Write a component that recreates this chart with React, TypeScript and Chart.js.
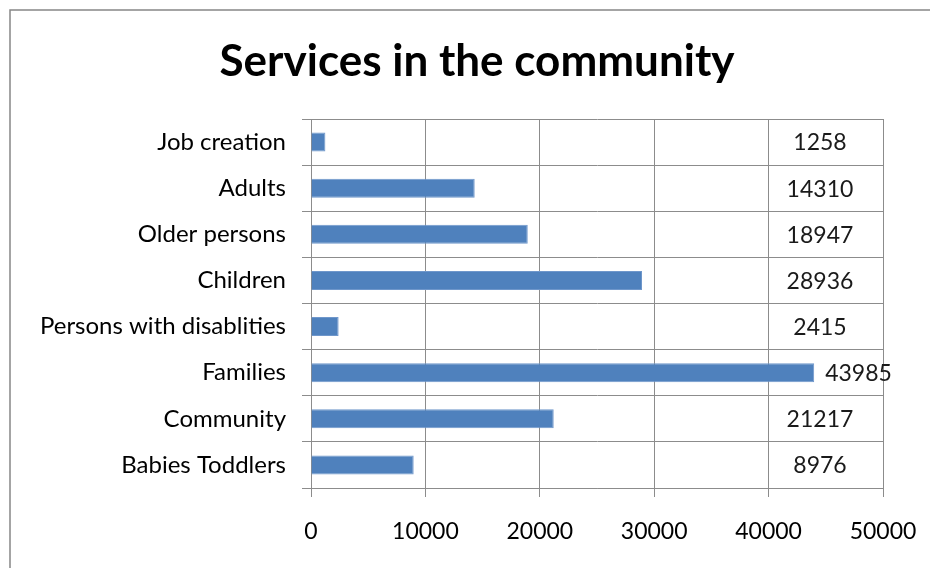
import React, { useEffect, useRef } from "react";
import { Chart, registerables } from "chart.js";

Chart.register(...registerables);

const TITLE = "Services in the community";
const categories = [
  "Job creation",
  "Adults",
  "Older persons",
  "Children",
  "Persons with disablities",
  "Families",
  "Community",
  "Babies Toddlers",
];
const values = [1258, 14310, 18947, 28936, 2415, 43985, 21217, 8976];
const xMin = 0;
const xMax = 50000;
const xStep = 10000;
const labelColumnValue = 44490;

const FONT = "Lato";

export default function App() {
  const ref = useRef<HTMLCanvasElement | null>(null);

  useEffect(() => {
    if (!ref.current) return;
    const frame = {
      id: "frame",
      beforeDraw(chart: any) {
        const c = chart.ctx;
        c.save();
        c.fillStyle = "#ffffff";
        c.fillRect(0, 0, chart.width, chart.height);
        c.strokeStyle = "#878787";
        c.lineWidth = 1.5;
        c.beginPath();
        c.moveTo(10, chart.height + 5);
        c.lineTo(10, 10);
        c.lineTo(chart.width + 5, 10);
        c.stroke();
        c.fillStyle = "#000";
        c.font = `bold 44px ${FONT}`;
        c.textAlign = "center";
        c.textBaseline = "middle";
        c.fillText(TITLE, 477, 62);
        c.restore();
      },
    };
    const valueLabels = {
      id: "valueLabels",
      afterDatasetsDraw(chart: any) {
        const c = chart.ctx;
        const meta = chart.getDatasetMeta(0);
        const xs = chart.scales.x;
        c.save();
        c.font = `23px ${FONT}`;
        c.fillStyle = "#1a1a1a";
        c.textAlign = "center";
        c.textBaseline = "middle";
        meta.data.forEach((bar: any, i: number) => {
          const txt = String(values[i]);
          const w = c.measureText(txt).width;
          const col = xs.getPixelForValue(labelColumnValue);
          const x = Math.max(col, bar.x + 11 + w / 2);
          c.fillText(txt, x, bar.y + 1);
        });
        c.restore();
      },
    };
    const chart = new Chart(ref.current, {
      type: "bar",
      data: {
        labels: categories,
        datasets: [
          {
            data: values,
            backgroundColor: "#4F81BD",
            borderColor: "#6F97CB",
            borderWidth: 1,
            categoryPercentage: 1,
            barPercentage: 0.413,
          },
        ],
      },
      options: {
        indexAxis: "y",
        animation: false,
        responsive: false,
        maintainAspectRatio: false,
        devicePixelRatio: 1,
        layout: { padding: { left: 0, right: 47, top: 119, bottom: 0 } },
        plugins: {
          legend: { display: false },
          title: { display: false },
          tooltip: { enabled: false },
        },
        scales: {
          x: {
            min: xMin,
            max: xMax,
            ticks: {
              stepSize: xStep,
              color: "#000",
              font: { family: FONT, size: 23 },
              padding: 21,
              maxRotation: 0,
              callback: (v: any) => String(v),
            },
            grid: { color: "#8c8c8c", tickLength: 9, lineWidth: 1 },
            border: { color: "#8c8c8c" },
            afterFit(scale: any) {
              scale.height = 80;
              scale.paddingRight = 0;
            },
          },
          y: {
            ticks: {
              color: "#000",
              font: { family: FONT, size: 24 },
              padding: 16,
            },
            grid: { color: "#8c8c8c", tickLength: 9, offset: true, lineWidth: 1 },
            border: { color: "#8c8c8c" },
            afterFit(scale: any) {
              scale.width = 311;
            },
          },
        },
      },
      plugins: [frame, valueLabels],
    });
    return () => chart.destroy();
  }, []);

  return (
    <div style={{ position: "fixed", left: 0, top: 0, width: 930, height: 568, background: "#fff" }}>
      <canvas ref={ref} width={930} height={568} style={{ width: 930, height: 568, display: "block" }} />
    </div>
  );
}
